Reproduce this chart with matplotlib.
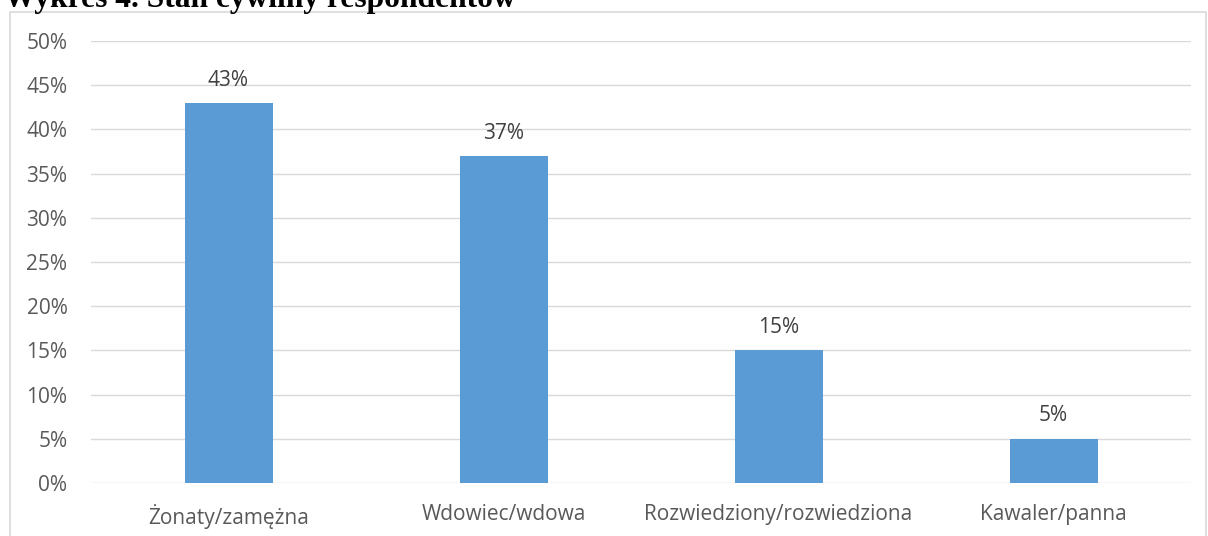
import matplotlib.pyplot as plt
import matplotlib.ticker as mticker
from matplotlib.patches import Rectangle
import numpy as np

CATS = ['Żonaty/zamężna', 'Wdowiec/wdowa', 'Rozwiedziony/rozwiedziona', 'Kawaler/panna']
VALS = [43, 37, 15, 5]
TITLE = 'Wykres 4. Stan cywilny respondentów'

def main():
   plt.rcParams['font.family'] = ['Open Sans', 'DejaVu Sans']
   fig = plt.figure(figsize=(12.08, 5.36), dpi=100)
   W, H = 1208, 536
   ax = fig.add_axes([91 / W, 1 - 483 / H, 1100 / W, (483 - 41) / H])

   x = np.arange(len(CATS))
   ax.bar(x, VALS, width=0.32, color='#5b9bd5', zorder=3)
   for xi, v in zip(x, VALS):
      ax.text(xi, v + 1.4, '%d%%' % v, ha='center', va='bottom', fontsize=15, color='#404040')

   ax.set_xlim(-0.5, 3.5)
   ax.set_ylim(0, 50)
   ax.set_yticks(np.arange(0, 51, 5))
   ax.yaxis.set_major_formatter(mticker.FuncFormatter(lambda v, p: '%d%%' % v))
   ax.set_xticks(x, CATS)
   ax.tick_params(axis='both', length=0, labelsize=15, labelcolor='#595959')
   ax.tick_params(axis='y', pad=17)
   ax.tick_params(axis='x', pad=15)
   ax.grid(axis='y', color='#d9d9d9', linewidth=1, zorder=0)
   for s in ax.spines.values():
      s.set_visible(False)

   # outer chart border
   fig.patches.append(Rectangle((10 / W, -0.1), (1206 - 10) / W, 1.1 - 12 / H, transform=fig.transFigure,
                                fill=False, edgecolor='#d9d9d9', linewidth=1.2))
   fig.text(4 / W, 1 - 7 / H, TITLE, fontsize=22.7, fontweight='bold', family='Liberation Serif',
            ha='left', va='baseline', color='black')

   plt.savefig('out.png', dpi=100)
   plt.close()

if __name__ == '__main__':
   main()
